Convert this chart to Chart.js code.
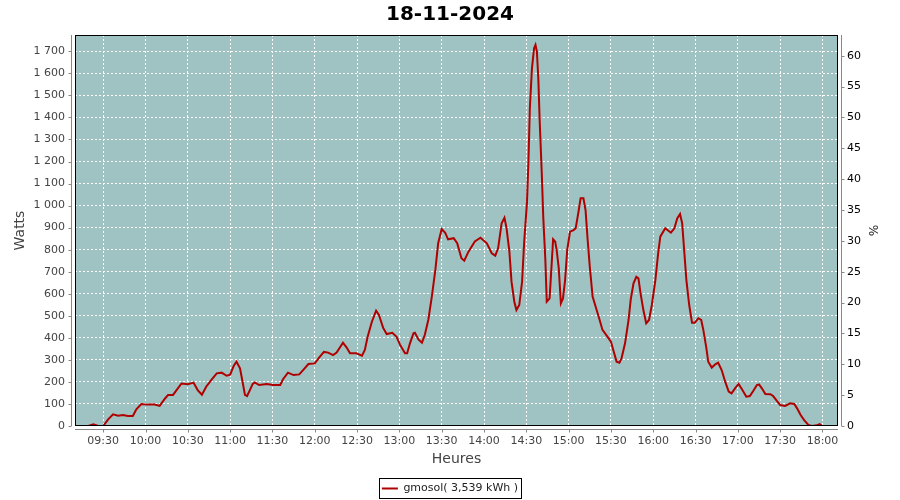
<!DOCTYPE html>
<html lang="fr">
<head>
<meta charset="UTF-8">
<title>gmosol - 18-11-2024</title>
<script src="https://cdn.jsdelivr.net/npm/chart.js@4.4.1/dist/chart.umd.min.js"></script>
<style>
    html, body { margin: 0; padding: 0; background: #ffffff; }
    #graphique { display: block; }
</style>
</head>
<body>
<canvas id="graphique" width="900" height="500"></canvas>
<script>
// --- Données ---
const titre = '18-11-2024';
const nomSerie = 'gmosol( 3,539 kWh )';

// heure de chaque mesure, en minutes depuis minuit
const minutes = [
    559.5, 563, 566.5, 570, 573.5, 577, 580.5, 584, 587.5, 591, 593.5, 597, 601, 606.5, 610, 614,
    616, 619.5, 622, 625.5, 630, 634, 637, 640, 643, 647, 650.5, 654, 657.5, 660, 662.5, 664.5,
    667, 669, 670.5, 672, 674, 676, 677.5, 680.5, 686, 690.5, 695.5, 697.5, 701, 705, 709, 712.5,
    715.5, 720, 723.5, 726.5, 729.5, 733, 735.5, 740, 742.5, 745, 749.5, 753.5, 755.5, 757.5, 760.5,
    763.5, 765.5, 768.5, 771, 775, 778, 780.5, 784, 785.5, 787.5, 790, 791, 793.5, 796, 798, 800.5,
    803, 805.5, 807.5, 810, 812.5, 814.5, 818.5, 821, 824, 826, 829, 833.5, 837.5, 842, 845.5, 848,
    850, 852.5, 854.5, 856, 858, 859.5, 861.5, 863, 865, 867, 868.5, 870.5, 871.5, 872.5, 874, 875.5,
    876.5, 877.5, 878.5, 879.5, 881, 882, 883.5, 884.5, 886.5, 888, 889, 890.5, 891.5, 893, 894.5,
    896, 897.5, 899, 901, 903.5, 905, 907, 908.5, 910.5, 912, 913.5, 915, 917, 919.5, 922, 924, 927,
    930, 932, 934, 936, 937.5, 940, 942.5, 944, 946, 948, 949.5, 951, 953, 955, 957, 959, 961.5,
    963.5, 965, 968.5, 972.5, 975, 977, 979, 980.5, 982, 983.5, 985.5, 987.5, 989.5, 992, 994, 995.5,
    997.5, 999, 1001.5, 1004, 1006, 1008.5, 1011, 1013.5, 1015.5, 1018, 1020.5, 1023, 1026, 1028.5,
    1031, 1033.5, 1035, 1037, 1039.5, 1043, 1045, 1047.5, 1050, 1053.5, 1057, 1060, 1062, 1064.5,
    1067, 1070, 1072.5, 1076, 1078, 1080
];

// puissance produite (W)
const watts = [
    0, 8, 0, 0, 30, 53, 47, 50, 45, 45, 76, 100, 97, 97, 91, 126,
    141, 141, 163, 193, 190, 197, 163, 142, 178, 212, 239, 242, 228, 233, 272, 292,
    262, 194, 141, 136, 163, 191, 198, 186, 191, 186, 186, 212, 242, 231, 234, 259,
    281, 284, 314, 336, 333, 322, 333, 378, 357, 330, 330, 319, 345, 405, 473,
    523, 504, 445, 417, 423, 405, 368, 330, 330, 375, 421, 423, 393, 378, 413, 481,
    587, 708, 829, 894, 877, 847, 852, 829, 761, 750, 791, 837, 854, 829, 784, 773,
    806, 920, 945, 897, 791, 655, 564, 526, 549, 655, 836, 1018, 1199, 1442, 1623, 1714,
    1729, 1698, 1578, 1381, 1140, 950, 753, 564, 579, 738, 847, 836, 799, 716, 557,
    579, 662, 799, 882, 889, 897, 972, 1033, 1033, 980, 844, 723, 587, 534, 481, 436, 410,
    383, 337, 292, 287, 307, 375, 481, 572, 647, 677, 670, 602, 526, 466, 481, 549, 662,
    784, 859, 897, 877, 897, 942, 962, 920, 791, 662, 549, 469, 469, 489, 481, 436,
    360, 292, 265, 280, 287, 254, 201, 156, 148, 171, 191, 166, 133, 136,
    160, 186, 189, 171, 145, 144, 136, 115, 95, 91, 103, 100, 80, 50,
    27, 5, 0, 3, 8, 0
];

// graduations de l'axe des heures (toutes les 30 min)
const ticksHeures = [570, 600, 630, 660, 690, 720, 750, 780, 810, 840, 870, 900, 930, 960, 990, 1020, 1050, 1080];

// bornes des axes
const debutJournee = 550;   // 09:10
const finJournee = 1091;    // 18:11
const maxWatts = 1774;
const maxPourcent = 63.36;

// --- Utilitaires de format ---
function formatHeure(v) {
    const h = Math.floor(v / 60);
    const m = Math.round(v % 60);
    return String(h).padStart(2, '0') + ':' + String(m).padStart(2, '0');
}

function formatMilliers(v) {
    // séparateur de milliers : espace
    return String(v).replace(/\B(?=(\d{3})+(?!\d))/g, ' ');
}

// --- Plugins de dessin ---
const fondTrace = {
    id: 'fondTrace',
    beforeDraw(chart) {
        const { ctx, chartArea: a } = chart;
        ctx.save();
        ctx.fillStyle = '#9ec3c2';
        ctx.fillRect(a.left, a.top, a.right - a.left, a.bottom - a.top);
        ctx.restore();
    }
};

const cadreEtAxes = {
    id: 'cadreEtAxes',
    afterDraw(chart) {
        const { ctx, chartArea: a, scales } = chart;
        const trait = (x1, y1, x2, y2) => {
            ctx.beginPath();
            ctx.moveTo(x1, y1);
            ctx.lineTo(x2, y2);
            ctx.stroke();
        };
        ctx.save();
        ctx.lineWidth = 1;

        // cadre noir autour de la zone de tracé
        ctx.strokeStyle = '#000000';
        ctx.strokeRect(a.left + 0.5, a.top + 0.5, a.right - a.left - 1, a.bottom - a.top - 1);

        // axes gris décalés de 4 px, avec leurs graduations
        ctx.strokeStyle = '#888888';
        const xg = a.left - 3.5;
        trait(xg, a.top, xg, a.bottom);
        scales.y.ticks.forEach(t => {
            const py = Math.round(scales.y.getPixelForValue(t.value)) + 0.5;
            trait(xg - 3, py, xg, py);
        });

        const xd = a.right + 3.5;
        trait(xd, a.top, xd, a.bottom);
        scales.y2.ticks.forEach(t => {
            const py = Math.round(scales.y2.getPixelForValue(t.value)) + 0.5;
            trait(xd, py, xd + 3, py);
        });

        const yb = a.bottom + 3.5;
        trait(a.left, yb, a.right, yb);
        scales.x.ticks.forEach(t => {
            const px = Math.round(scales.x.getPixelForValue(t.value)) + 0.5;
            trait(px, yb, px, yb + 3);
        });

        // cadre de la légende
        const boite = chart.legend.legendHitBoxes[0];
        if (boite) {
            ctx.strokeStyle = '#000000';
            const cy = boite.top + boite.height / 2;
            ctx.strokeRect(Math.round(boite.left) - 2.5, Math.round(cy) - 10.5, Math.round(boite.width) + 6, 20);
        }
        ctx.restore();
    }
};

// --- Graphique ---
Chart.defaults.font.family = "'DejaVu Sans', sans-serif";

new Chart(document.getElementById('graphique'), {
    type: 'line',
    data: {
        datasets: [{
            label: nomSerie,
            data: minutes.map((m, i) => ({ x: m, y: watts[i] })),
            borderColor: '#b00000',
            backgroundColor: '#b00000',
            borderWidth: 2,
            pointRadius: 0,
            tension: 0,
            fill: false,
            yAxisID: 'y'
        }]
    },
    options: {
        responsive: false,
        animation: false,
        layout: { padding: { left: 0, right: 0, top: 0, bottom: -4 } },
        plugins: {
            title: {
                display: true,
                text: titre,
                color: '#000000',
                font: { size: 20, weight: 'bold' },
                padding: { top: 3, bottom: 8 }
            },
            legend: {
                display: true,
                position: 'bottom',
                labels: {
                    color: '#222222',
                    font: { size: 11 },
                    boxWidth: 16,
                    boxHeight: 2,
                    padding: 8,
                    generateLabels: chart => Chart.defaults.plugins.legend.labels.generateLabels(chart)
                        .map(l => ({ ...l, lineWidth: 0 }))
                }
            },
            tooltip: { enabled: false }
        },
        scales: {
            x: {
                type: 'linear',
                min: debutJournee,
                max: finJournee,
                afterBuildTicks: s => { s.ticks = ticksHeures.map(v => ({ value: v })); },
                afterFit: s => { s.height = 49; },
                ticks: {
                    color: '#444444',
                    font: { size: 11 },
                    padding: 9,
                    maxRotation: 0,
                    callback: v => formatHeure(v)
                },
                grid: { color: '#ffffff', lineWidth: 1, drawTicks: false },
                border: { display: false, dash: [2, 2] },
                title: {
                    display: true,
                    text: 'Heures',
                    color: '#444444',
                    font: { size: 14 },
                    padding: { top: 0, bottom: 7 }
                }
            },
            y: {
                position: 'left',
                min: 0,
                max: maxWatts,
                afterFit: s => { s.width = 75; },
                ticks: {
                    stepSize: 100,
                    includeBounds: false,
                    color: '#444444',
                    font: { size: 11 },
                    padding: 10,
                    callback: v => formatMilliers(v)
                },
                grid: { color: '#ffffff', lineWidth: 1, drawTicks: false },
                border: { display: false, dash: [2, 2] },
                title: {
                    display: true,
                    text: 'Watts',
                    color: '#444444',
                    font: { size: 14 },
                    padding: { top: 12, bottom: 0 }
                }
            },
            y2: {
                position: 'right',
                min: 0,
                max: maxPourcent,
                afterFit: s => { s.width = 62; },
                ticks: {
                    stepSize: 5,
                    includeBounds: false,
                    color: '#000000',
                    font: { size: 11 },
                    padding: 9
                },
                grid: { display: false, drawTicks: false },
                border: { display: false },
                title: {
                    display: true,
                    text: '%',
                    color: '#222222',
                    font: { size: 12 },
                    padding: { top: 21, bottom: 0 }
                }
            }
        }
    },
    plugins: [fondTrace, cadreEtAxes]
});
</script>
</body>
</html>
